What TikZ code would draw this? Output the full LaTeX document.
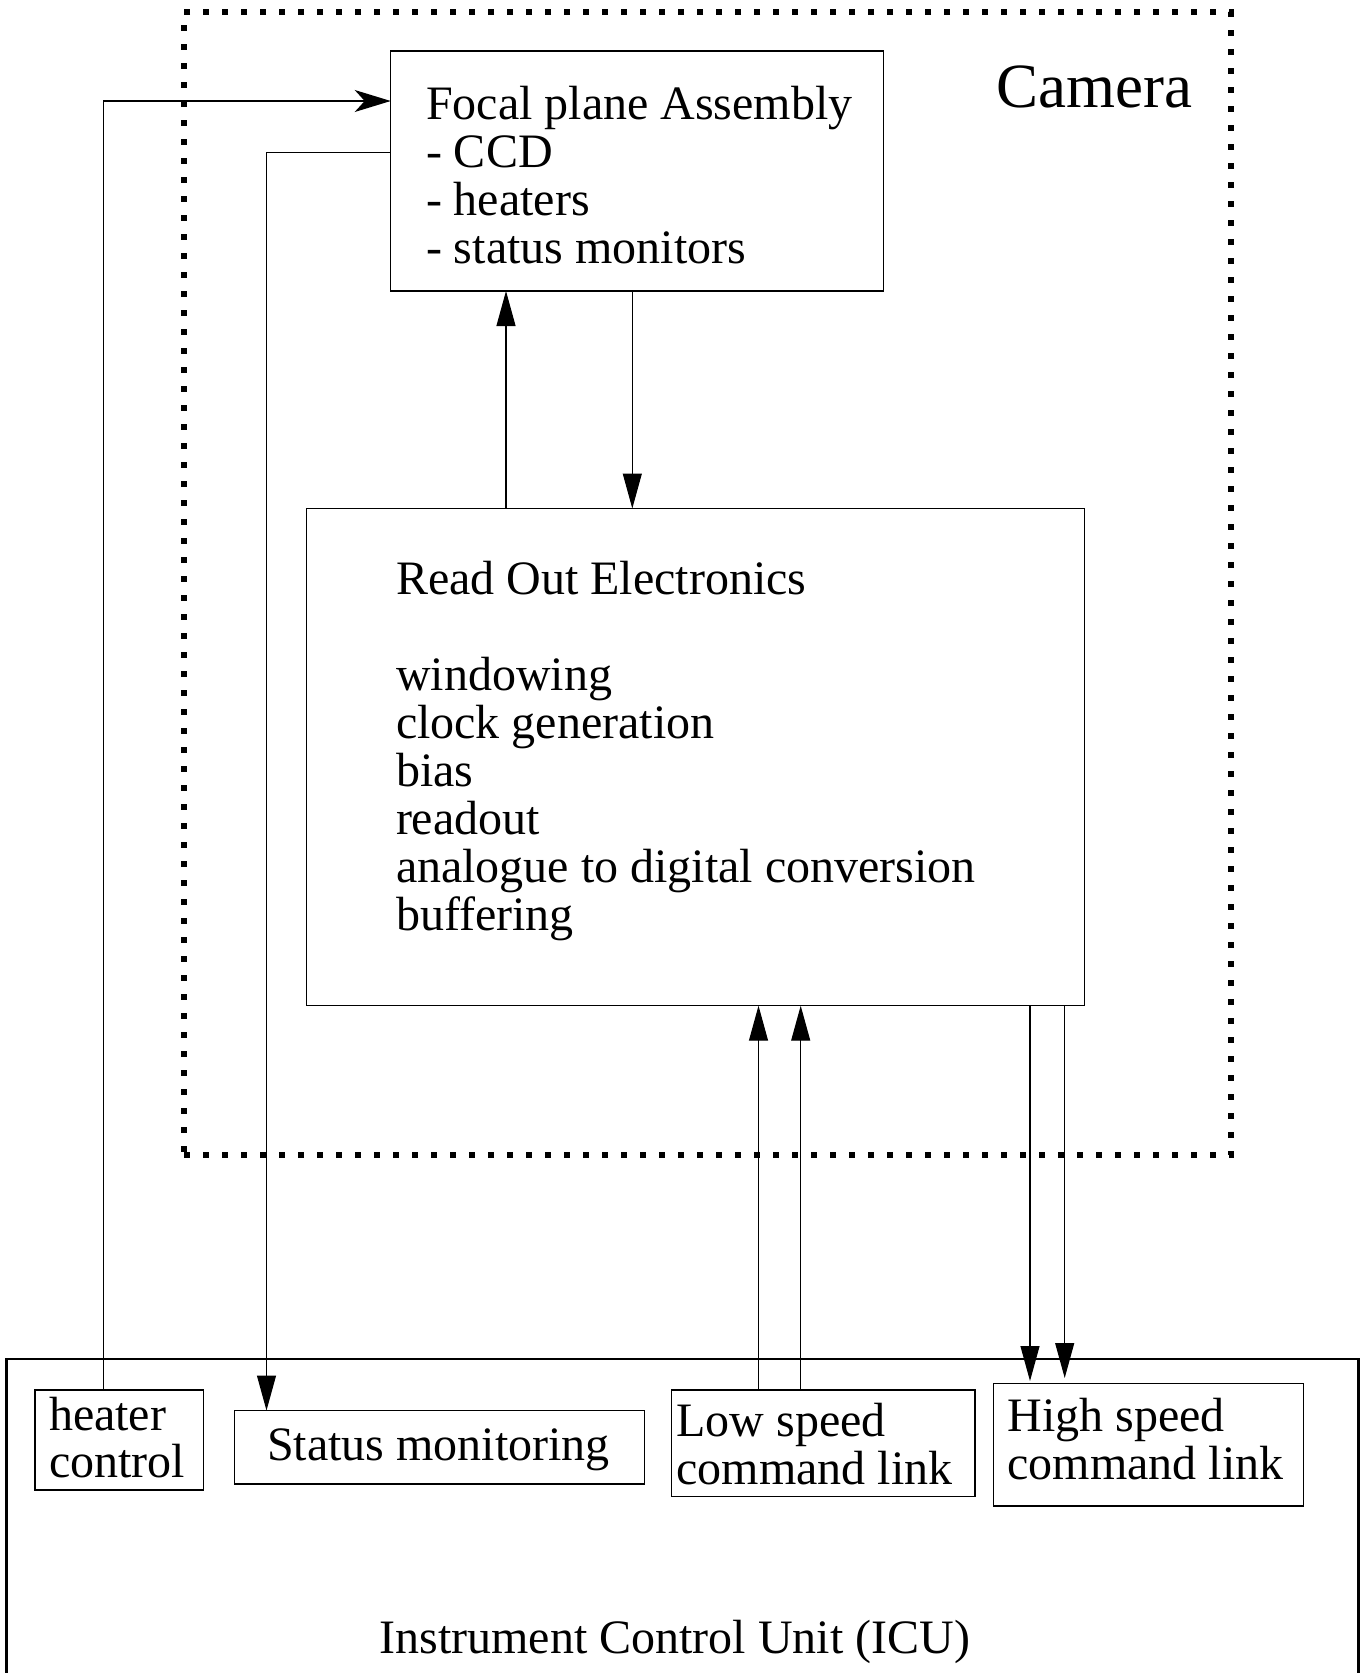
\documentclass[tikz,border=0pt]{standalone}
\usepackage{fontspec}
\setmainfont{Liberation Serif}
\usetikzlibrary{arrows.meta}
\begin{document}
\begin{tikzpicture}[x=1pt,y=-1pt,
  box/.style={draw, line width=1.4pt, inner sep=0pt, outer sep=0pt},
  txt/.style={anchor=base west, inner sep=0pt, outer sep=0pt, font=\fontsize{48}{48}\selectfont},
  conn/.style={line width=1.1pt},
  tri/.style={conn, -{Triangle[length=35pt,width=19pt]}},
  stl/.style={conn, -{Stealth[length=36pt,width=22pt,inset=10pt]}},
  dotbox/.style={draw, line width=6pt, dash pattern=on 6pt off 13pt, inner sep=0pt, outer sep=0pt}]
\useasboundingbox (0,0) rectangle (1364,1673);
\clip (0,0) rectangle (1364,1673);

% camera frame
\node[dotbox, minimum width=1046.5pt, minimum height=1143pt] (cam) at (707.25,583.5) {};
\node[anchor=base west, inner sep=0pt, font=\fontsize{63}{63}\selectfont] (camT) at (996.7,107) {Camera};

% boxes
\node[box, minimum width=493pt, minimum height=240pt] (fpa) at (637.2,171) {};
\node[box, minimum width=778pt, minimum height=497.2pt] (roe) at (695.3,757.1) {};
\node[box, line width=2.2pt, minimum width=1352pt, minimum height=341pt] (icu) at (682.5,1529.5) {};
\node[box, minimum width=168.5pt, minimum height=100pt] (heat) at (119.25,1440) {};
\node[box, minimum width=409.6pt, minimum height=73.5pt] (stat) at (439.4,1447.25) {};
\node[box, minimum width=303.8pt, minimum height=106.7pt] (low) at (823.1,1443.35) {};
\node[box, minimum width=310.1pt, minimum height=122.5pt] (high) at (1148.35,1444.75) {};

% texts
\foreach \t/\y [count=\i] in {Focal plane Assembly/119, - CCD/167, - heaters/215, - status monitors/263}
  \node[txt] (fpaT\i) at (426,\y) {\t};
\foreach \t/\y [count=\i] in {Read Out Electronics/594.5, windowing/690.5, clock generation/738.5, bias/786.5, readout/834.5, analogue to digital conversion/882.5, buffering/930.5}
  \node[txt] (roeT\i) at (396,\y) {\t};
\node[txt] (heatT1) at (49,1430) {heater};
\node[txt] (heatT2) at (49,1477) {control};
\node[txt] (statT) at (267,1460) {Status monitoring};
\node[txt] (lowT1) at (676.4,1436.7) {Low speed};
\node[txt] (lowT2) at (676.4,1484) {command link};
\node[txt] (highT1) at (1007.5,1431.7) {High speed};
\node[txt] (highT2) at (1007.5,1479.5) {command link};
\node[txt] (icuT) at (379.5,1653) {Instrument Control Unit (ICU)};

% connector guide coordinates
\coordinate (hc) at (103.5,101);
\coordinate (sc) at (266.5,152.7);
\coordinate (a1) at (506,0);
\coordinate (a2) at (632.3,0);
\coordinate (u1) at (758.5,0);
\coordinate (u2) at (800.7,0);
\coordinate (d1) at (1030,0);
\coordinate (d2) at (1064.7,0);

% connectors
\draw[stl] (heat.north -| hc) |- (fpa.west |- hc);
\draw[tri] (fpa.west |- sc) -| (stat.north -| sc);
\draw[tri] (roe.north -| a1) -- (fpa.south -| a1);
\draw[tri] (fpa.south -| a2) -- (roe.north -| a2);
\draw[tri] (low.north -| u1) -- (roe.south -| u1);
\draw[tri] (low.north -| u2) -- (roe.south -| u2);
\draw[tri, shorten >=2.5pt] (roe.south -| d1) -- (high.north -| d1);
\draw[tri, shorten >=5.5pt] (roe.south -| d2) -- (high.north -| d2);
\end{tikzpicture}
\end{document}
